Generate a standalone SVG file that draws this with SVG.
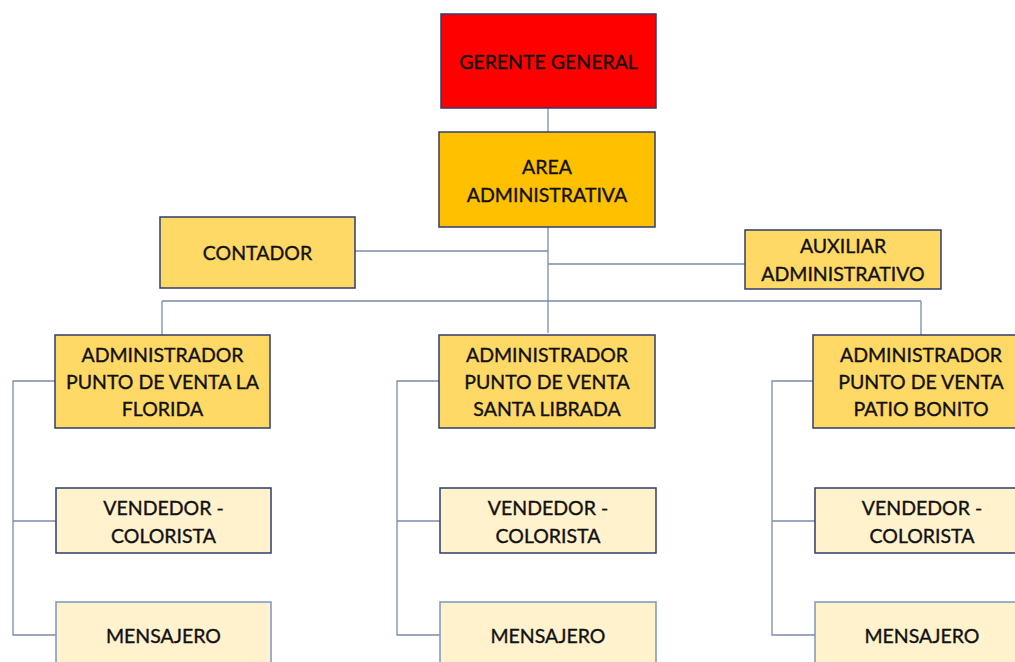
<svg xmlns="http://www.w3.org/2000/svg" width="1015" height="662" viewBox="0 0 1015 662">
<style>
.b{stroke:#2F3D6E;stroke-width:1.5}
.red{fill:#FF0000}
.org{fill:#FFC000}
.y1{fill:#FFD966}
.y2{fill:#FFF2CC}
.t{font-family:Lato,"Open Sans","Liberation Sans",sans-serif;font-size:19.5px;fill:#111;stroke:#111;stroke-width:0.35;text-anchor:middle;dominant-baseline:central}
.c{fill:none;stroke:#7B8BAF;stroke-width:1.3}
</style>
<rect width="1015" height="662" fill="#fff"/>
<g id="connectors">
<path class="c" d="M548,108V333"/>
<path class="c" d="M355,251H548"/>
<path class="c" d="M548,264H745"/>
<path class="c" d="M162,301H921M162,301V335M921,301V335"/>
<path class="c" d="M55,381H13V635H56M13,521H56"/>
<path class="c" d="M439,381H397V635H440M397,521H440"/>
<path class="c" d="M813,381H772V635H815M772,521H815"/>
</g>
<g id="gerente"><rect class="b red" x="441" y="14" width="215" height="94"/><text class="t" x="548.5" y="61">GERENTE GENERAL</text></g>
<g id="area"><rect class="b org" x="439" y="132" width="216" height="95"/><text class="t" x="547" y="166">AREA</text><text class="t" x="547" y="194">ADMINISTRATIVA</text></g>
<g id="contador"><rect class="b y1" x="160" y="217" width="195" height="71"/><text class="t" x="257.5" y="252">CONTADOR</text></g>
<g id="auxiliar"><rect class="b y1" x="745" y="230" width="196" height="59"/><text class="t" x="843" y="245">AUXILIAR</text><text class="t" x="843" y="273">ADMINISTRATIVO</text></g>
<g id="admin1"><rect class="b y1" x="55" y="335" width="215" height="93"/><text class="t" x="162.5" y="354">ADMINISTRADOR</text><text class="t" x="162.5" y="381">PUNTO DE VENTA LA</text><text class="t" x="162.5" y="408">FLORIDA</text></g>
<g id="admin2"><rect class="b y1" x="439" y="335" width="216" height="93"/><text class="t" x="547" y="354">ADMINISTRADOR</text><text class="t" x="547" y="381">PUNTO DE VENTA</text><text class="t" x="547" y="408">SANTA LIBRADA</text></g>
<g id="admin3"><rect class="b y1" x="813" y="335" width="216" height="93"/><text class="t" x="921" y="354">ADMINISTRADOR</text><text class="t" x="921" y="381">PUNTO DE VENTA</text><text class="t" x="921" y="408">PATIO BONITO</text></g>
<g id="vend1"><rect class="b y2" x="56" y="488" width="215" height="65"/><text class="t" x="163.5" y="507">VENDEDOR -</text><text class="t" x="163.5" y="535">COLORISTA</text></g>
<g id="vend2"><rect class="b y2" x="440" y="488" width="216" height="65"/><text class="t" x="548" y="507">VENDEDOR -</text><text class="t" x="548" y="535">COLORISTA</text></g>
<g id="vend3"><rect class="b y2" x="815" y="488" width="216" height="65"/><text class="t" x="922" y="507">VENDEDOR -</text><text class="t" x="922" y="535">COLORISTA</text></g>
<g id="mens1"><rect class="b y2" x="56" y="602" width="215" height="80" style="stroke:#7B95C4"/><text class="t" x="163.5" y="635">MENSAJERO</text></g>
<g id="mens2"><rect class="b y2" x="440" y="602" width="216" height="80" style="stroke:#7B95C4"/><text class="t" x="548" y="635">MENSAJERO</text></g>
<g id="mens3"><rect class="b y2" x="815" y="602" width="216" height="80" style="stroke:#7B95C4"/><text class="t" x="922" y="635">MENSAJERO</text></g>
</svg>
